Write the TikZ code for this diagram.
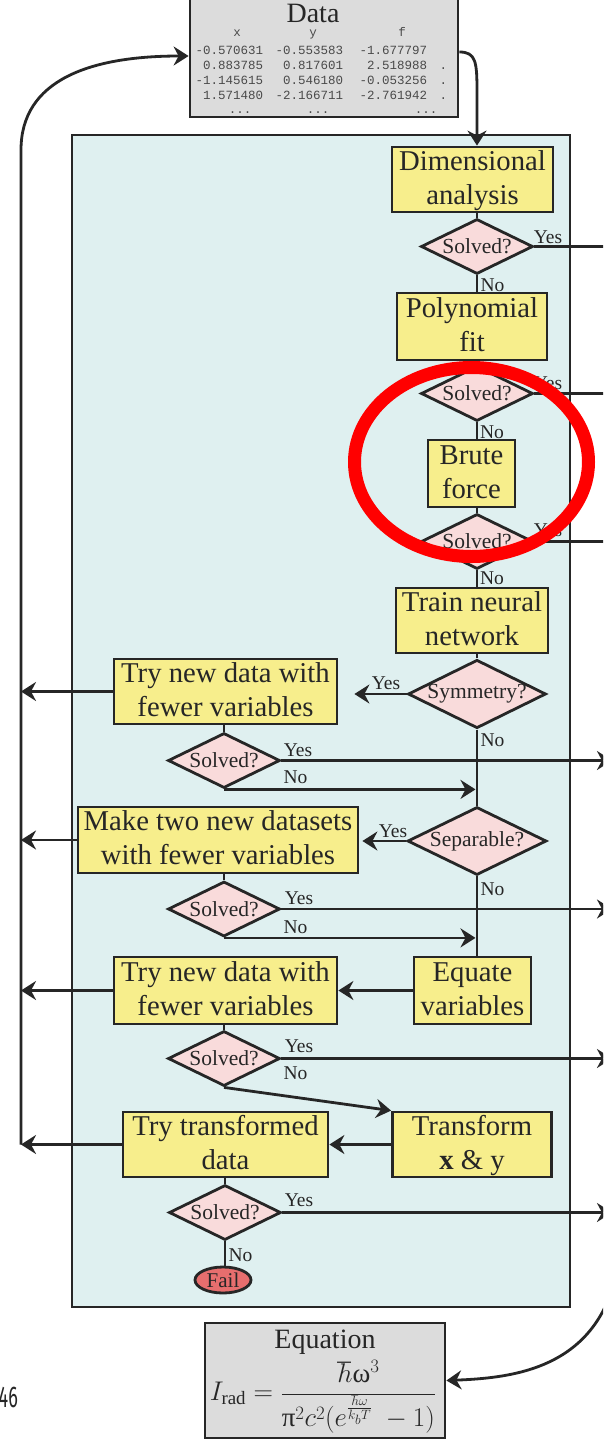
\RequirePackage{fix-cm}
\documentclass[tikz,border=0pt]{standalone}
\usepackage{fontspec}
\setmainfont{Liberation Serif}
\setmonofont{Liberation Mono}
\newfontfamily\pagefont{Fira Sans}
\usetikzlibrary{shapes.geometric,arrows.meta}

\definecolor{ink}{HTML}{262626}
\definecolor{tabink}{HTML}{4A4A4A}
\definecolor{panelfill}{HTML}{DFF0F0}
\definecolor{boxfill}{HTML}{F7EE8C}
\definecolor{decfill}{HTML}{F9DBDB}
\definecolor{failfill}{HTML}{E76E6E}
\definecolor{grayfill}{HTML}{DCDCDC}

\newcommand\boxfont{\fontsize{28.7}{34}\selectfont}
\newcommand\titlefont{\fontsize{28}{32}\selectfont}
\newcommand\decfont{\fontsize{21.5}{24}\selectfont}
\newcommand\lblfont{\fontsize{19.5}{22}\selectfont}
\newcommand\failfont{\fontsize{21}{22}\selectfont}
\newcommand\tabfont{\fontsize{12.5}{15}\selectfont\ttfamily}
% two centred lines with fixed ascent/descent so every box sits alike
\newcommand\two[2]{\rule{0pt}{22pt}#1\\#2\rule[-6.5pt]{0pt}{0pt}}

\tikzset{
  conn/.style={draw=ink, line width=2.8pt},
  arr/.style={conn, -{Stealth[length=15pt,width=19pt,inset=5pt]}},
  stepbox/.style={draw=ink, line width=2.8pt, fill=boxfill, font=\boxfont,
    text=ink, align=center, inner sep=0pt},
  decision/.style={diamond, aspect=2, draw=ink, line width=2.8pt, fill=decfill,
    font=\decfont, text=ink, inner sep=0pt, minimum width=112pt, minimum height=55pt},
  graybox/.style={draw=ink, line width=2.8pt, fill=grayfill, inner sep=0pt},
  lbl/.style={font=\lblfont, text=ink, inner sep=0pt},
  tabrow/.style={anchor=base west, inner sep=0pt, font=\tabfont, text=tabink},
}

\newcommand\datarow[4]{\makebox[68pt][r]{#1}\makebox[80pt][r]{#2}\makebox[84pt][r]{#3}\makebox[20pt][r]{#4}}

\begin{document}
\begin{tikzpicture}[x=1pt,y=-1pt]
\useasboundingbox (0,0) rectangle (603,1440);
\clip (0,0) rectangle (603,1440);
\fill[white] (0,0) rectangle (603,1440);

% helper coordinates for the loose ends
\coordinate (loopx) at (21,0);
\coordinate (lineend) at (606,0);
\coordinate (arrowend) at (612,0);
\coordinate (eqfeed) at (612,1290);

% main panel
\node[draw=ink, line width=2.8pt, fill=panelfill, inner sep=0pt,
      minimum width=498pt, minimum height=1172pt] (panel) at (321,721) {};

% input data
\node[graybox, minimum width=268pt, minimum height=122pt] (data) at (324,56) {};
\node[anchor=base, font=\titlefont, text=ink, inner sep=0pt] (datatitle) at (313,22) {Data};
\node[tabrow] (hdr) at (195,36.7) {\makebox[84pt][c]{x}\makebox[68pt][c]{y}\makebox[110pt][c]{f}};
\node[tabrow] (row1) at (195,54) {\datarow{-0.570631}{-0.553583}{-1.677797}{}};
\node[tabrow] (row2) at (195,69) {\datarow{0.883785}{0.817601}{2.518988}{.}};
\node[tabrow] (row3) at (195,84) {\datarow{-1.145615}{0.546180}{-0.053256}{.}};
\node[tabrow] (row4) at (195,99.5) {\datarow{1.571480}{-2.166711}{-2.761942}{.}};
\node[tabrow] (row5) at (195,113.5) {\makebox[90pt][c]{...}\makebox[66pt][c]{...}\makebox[150pt][c]{...}};

% right column
\node[stepbox, minimum width=161pt, minimum height=65pt] (dim) at (472.5,179.5) {\two{Dimensional}{analysis}};
\node[decision] (d1) at (477,246.5) {Solved?};
\node[stepbox, minimum width=150pt, minimum height=67pt] (poly) at (472,326.5) {\two{Polynomial}{fit}};
\node[decision] (d2) at (477,393.5) {Solved?};
\node[stepbox, minimum width=87pt, minimum height=67pt] (brute) at (471.5,473.5) {\two{Brute}{force}};
\node[decision] (d3) at (477,541.5) {Solved?};
\node[stepbox, minimum width=152pt, minimum height=65pt] (train) at (472,620.5) {\two{Train neural}{network}};
\node[decision, minimum width=138pt, minimum height=68pt] (sym) at (477,694) {Symmetry?};
\node[decision, minimum width=139pt, minimum height=68pt] (sep) at (477,841) {Separable?};
\node[stepbox, minimum width=117pt, minimum height=67pt] (equate) at (472.5,990.5) {\two{Equate}{variables}};
\node[stepbox, minimum width=159pt, minimum height=65pt] (trans) at (472,1144.5) {\two{Transform}{\textbf{x} \& y}};

% left column
\node[stepbox, minimum width=223pt, minimum height=65pt] (fewer1) at (225.5,691.5) {\two{Try new data with}{fewer variables}};
\node[decision] (s2) at (224,760.5) {Solved?};
\node[stepbox, minimum width=280pt, minimum height=66pt] (make) at (218,840) {\two{Make two new datasets}{with fewer variables}};
\node[decision] (s3) at (224,909) {Solved?};
\node[stepbox, minimum width=223pt, minimum height=67pt] (fewer2) at (225.5,990.5) {\two{Try new data with}{fewer variables}};
\node[decision] (s4) at (224,1058.5) {Solved?};
\node[stepbox, minimum width=205pt, minimum height=65pt] (trydata) at (225.5,1144.5) {\two{Try transformed}{data}};
\node[decision] (s5) at (225,1212.5) {Solved?};
\node[ellipse, draw=ink, line width=2.8pt, fill=failfill, inner sep=0pt,
      minimum width=56pt, minimum height=26pt, font=\failfont, text=ink] (fail) at (223,1280) {Fail};

% result
\node[graybox, minimum width=240pt, minimum height=115pt] (eqn) at (325,1380.5) {};
\node[anchor=base, font=\titlefont, text=ink, inner sep=0pt] (eqtitle) at (325,1348) {Equation};
\node[font=\fontsize{27}{30}\selectfont, text=ink, inner sep=0pt] (eqformula) at (323,1397)
  {$\displaystyle I_{\mathrm{rad}}=\frac{\hbar\mbox{ω}^{3}}{\mbox{π}^{2}c^{2}(e^{\frac{\hbar\omega}{k_bT}}\;-1)}$};

% vertical flow in the right column
\draw[arr] ([yshift=4pt]data.east) .. controls (476,52) and (477,62) .. (477,92) -- (d1.north |- dim.north);
\draw[conn] (d1.north) -- (d1.north |- dim.south);
\draw[conn] (d1.south) -- (d1.south |- poly.north);
\draw[conn] (d2.north) -- (d2.north |- poly.south);
\draw[conn] (d2.south) -- (d2.south |- brute.north);
\draw[conn] (d3.north) -- (d3.north |- brute.south);
\draw[conn] (d3.south) -- (d3.south |- train.north);
\draw[conn] (sym.north) -- (sym.north |- train.south);
\draw[conn] (sym.south) -- (sep.north);
\draw[conn] (sep.south) -- (sep.south |- equate.north);

% left column joins
\draw[conn] (s2.north) -- (s2.north |- fewer1.south);
\draw[conn] (s3.north) -- (s3.north |- make.south);
\draw[conn] (s4.north) -- (s4.north |- fewer2.south);
\draw[conn] (s5.north) -- (s5.north |- trydata.south);
\draw[conn] (s5.south) -- (s5.south |- fail.north);

% solved: leave to the right
\draw[conn] (d1.east) -- (d1.east -| lineend);
\draw[conn] (d2.east) -- (d2.east -| lineend);
\draw[conn] (d3.east) -- (d3.east -| lineend);
\draw[arr] (s2.east) -- (s2.east -| arrowend);
\draw[arr] (s3.east) -- (s3.east -| arrowend);
\draw[arr] (s4.east) -- (s4.east -| arrowend);
\draw[arr] (s5.east) -- (s5.east -| arrowend);

% branches into the left column
\draw[arr, shorten >=16pt] (sym.west) -- (sym.west -| fewer1.east);
\draw[arr, shorten >=3pt] (sep.west) -- (sep.west -| make.east);
\draw[arr] (equate.west) -- (equate.west -| fewer2.east);
\draw[arr] (trans.west) -- (trans.west -| trydata.east);

% not solved: back to the main line
\draw[arr, shorten >=1.5pt] (s2.south) -- (s2.south -| sym.south);
\draw[arr, shorten >=1.5pt] (s3.south) -- (s3.south -| sep.south);
\draw[arr] (s4.south) -- (trans.north west);

% new data sets loop back to the input
\draw[arr] (fewer1.west) -- (fewer1.west -| loopx);
\draw[arr] (make.west) -- (make.west -| loopx);
\draw[arr] (fewer2.west) -- (fewer2.west -| loopx);
\draw[arr] (trydata.west) -- (trydata.west -| loopx);
\draw[arr] (trydata.west -| loopx) -- (21,150) .. controls (21,80) and (90,56) .. (data.west);

% feed into the equation
\draw[arr] (eqfeed) .. controls (585,1370) and (510,1378) .. (eqn.east);

% branch labels
\node[lbl] (y1) at (548,237) {Yes};
\node[lbl] (n1) at (492.5,285) {No};
\node[lbl] (y2) at (548,383) {Yes};
\node[lbl] (n2) at (492,432) {No};
\node[lbl] (y3) at (548,530) {Yes};
\node[lbl] (n3) at (492,578) {No};
\node[lbl] (ysym) at (386,683) {Yes};
\node[lbl] (nsym) at (492.5,740) {No};
\node[lbl] (ys2) at (298,750) {Yes};
\node[lbl] (ns2) at (295.5,777) {No};
\node[lbl] (ysep) at (393,831) {Yes};
\node[lbl] (nsep) at (492.5,889) {No};
\node[lbl] (ys3) at (299,898) {Yes};
\node[lbl] (ns3) at (295.5,927) {No};
\node[lbl] (ys4) at (299,1046) {Yes};
\node[lbl] (ns4) at (295.5,1073) {No};
\node[lbl] (ys5) at (299,1200) {Yes};
\node[lbl] (ns5) at (240.5,1255) {No};

% highlight ring
\draw[red, line width=13pt] (471.5,462) ellipse [x radius=117pt, y radius=94.5pt];

% page number at the margin
\node[anchor=base east, inner sep=0pt, font=\pagefont\fontsize{30}{32}\selectfont,
      text=ink, xscale=0.6] (pagenum) at (18,1407) {46};
\end{tikzpicture}
\end{document}
